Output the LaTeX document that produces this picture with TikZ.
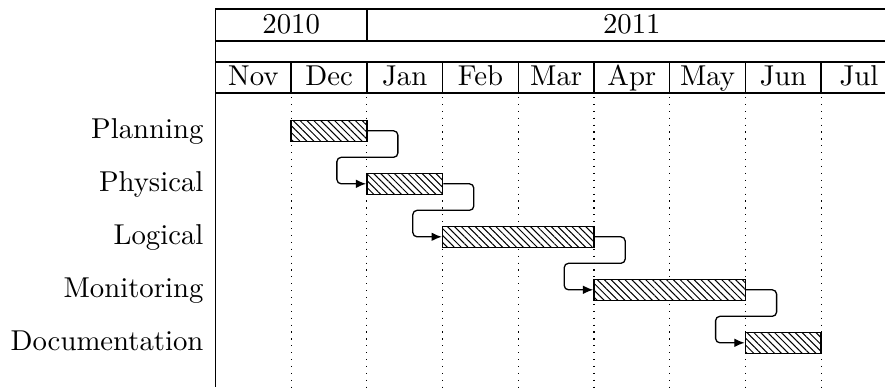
\documentclass[tikz,border=0pt]{standalone}
\usetikzlibrary{arrows.meta, patterns.meta}
\tikzstyle{frame} = [line width=0.5pt]
\tikzstyle{monthline} = [dotted, line width=0.4pt]
\tikzstyle{header} = [anchor=base, inner sep=0pt]
\tikzstyle{task} = [anchor=base east, inner sep=0pt]
\tikzstyle{bar} = [
    rectangle,
    draw=black,
    line width=0.5pt,
    inner sep=0pt,
    minimum height=7.3pt,
    preaction={fill=white},
    pattern={Lines[angle=-45, distance=1.7pt, line width=0.35pt]}
]
\tikzstyle{link} = [line width=0.45pt, rounded corners=1.5pt, -{Latex[length=3.6pt, width=3pt]}]
\begin{document}
\begin{tikzpicture}[x=0.348pt, y=-0.348pt]
\useasboundingbox (0,0) rectangle (885,387);
\clip (0,0) rectangle (885,387);

% Grid
\foreach \i in {1,...,8}
    \draw [monthline] (215.5+75.7*\i,97) -- (215.5+75.7*\i,387);
\draw [frame] (215.5,9) -- (215.5,387);
\foreach \y in {9,41,62,93}
    \draw [frame] (215.5,\y) -- (896.8,\y);
\draw [frame] (366.9,9) -- (366.9,41);
\foreach \i in {1,...,9}
    \draw [frame] (215.5+75.7*\i,62) -- (215.5+75.7*\i,93);

% Header
\node (y2010) [header] at (291.2,33.3) {2010};
\node (y2011) [header] at (631.85,33.3) {2011};
\foreach \m [count=\i from 0] in {Nov,Dec,Jan,Feb,Mar,Apr,May,Jun,Jul}
    \node (m\m) [header] at (253.35+75.7*\i,85) {\m};

% Tasks
\node (lplan) [task] at (204,138.8) {Planning};
\node (lphys) [task] at (204,191.8) {Physical};
\node (llogic) [task] at (204,244.8) {Logical};
\node (lmonit) [task] at (204,297.8) {Monitoring};
\node (ldocu) [task] at (204,350.8) {Documentation};

% Bars
\node (plan) [bar, minimum width=26.34pt] at (329.05,130.8) {};
\node (phys) [bar, minimum width=26.34pt] at (404.75,183.8) {};
\node (logic) [bar, minimum width=52.69pt] at (518.3,236.8) {};
\node (monit) [bar, minimum width=52.69pt] at (669.7,289.8) {};
\node (docu) [bar, minimum width=26.34pt] at (783.25,342.8) {};

% Links
\foreach \a/\b in {plan/phys, phys/logic, logic/monit, monit/docu}
    \draw [link] (\a.east) -- ++(30.5,0) -- ++(0,26.5) -- ++(-61,0) |- (\b.west);

\end{tikzpicture}
\end{document}
